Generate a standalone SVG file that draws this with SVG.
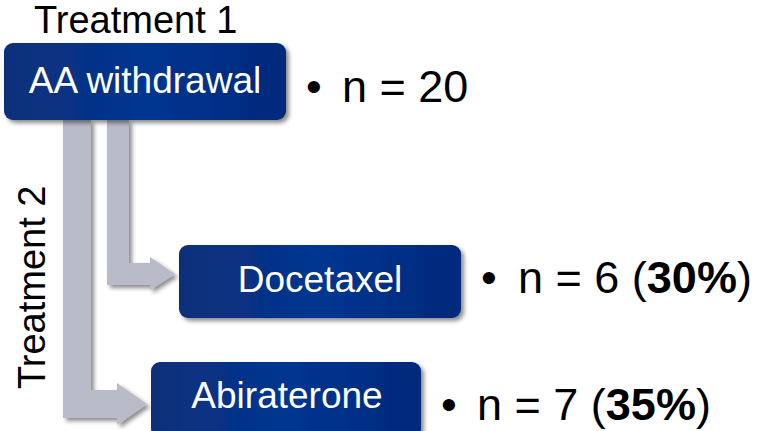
<svg xmlns="http://www.w3.org/2000/svg" width="775" height="431" viewBox="0 0 775 431">
  <defs>
    <linearGradient id="boxGrad" x1="0" y1="0" x2="1" y2="0">
      <stop offset="0" stop-color="#0e2f78"/>
      <stop offset="0.5" stop-color="#003592"/>
      <stop offset="1" stop-color="#06297a"/>
    </linearGradient>
    <filter id="shadow" x="-10%" y="-10%" width="125%" height="130%">
      <feDropShadow dx="3" dy="3" stdDeviation="2" flood-color="#000" flood-opacity="0.45"/>
    </filter>
  </defs>
  <style>
    .box { fill: url(#boxGrad); filter: url(#shadow); }
    .boxlabel { font-family: "Liberation Sans", Arial, sans-serif; font-size: 37px; fill: #ffffff; text-anchor: middle; }
    .label { font-family: "Liberation Sans", Arial, sans-serif; font-size: 38px; fill: #000000; }
    .count { font-family: "Liberation Sans", Arial, sans-serif; font-size: 45px; fill: #000000; }
    .arrow { fill: #b9bbc9; filter: url(#shadow); }
  </style>
  <rect width="775" height="431" fill="#ffffff"/>

  <g id="connectors">
    <path class="arrow" d="M63,120 H91 V390 H117 V383 L147,404 L117,425 V418 H63 Z"/>
    <path class="arrow" d="M107,120 H129 V263 H150 V257 L175,274 L150,290 V285 H107 Z"/>
  </g>

  <g id="treatment1-label">
    <text class="label" x="34" y="33">Treatment 1</text>
  </g>

  <g id="treatment2-label">
    <text class="label" transform="translate(45,389) rotate(-90)">Treatment 2</text>
  </g>

  <g id="aa-withdrawal">
    <rect class="box" x="4" y="43" width="282" height="77" rx="9"/>
    <text class="boxlabel" x="145" y="93">AA withdrawal</text>
  </g>

  <g id="docetaxel">
    <rect class="box" x="179" y="245" width="282" height="73" rx="9"/>
    <text class="boxlabel" x="320" y="292">Docetaxel</text>
  </g>

  <g id="abiraterone">
    <rect class="box" x="151" y="362" width="270" height="76" rx="9"/>
    <text class="boxlabel" x="287" y="408">Abiraterone</text>
  </g>

  <g id="count-aa">
    <text class="count" x="306" y="102">•</text>
    <text class="count" x="342" y="102">n = 20</text>
  </g>

  <g id="count-docetaxel">
    <text class="count" x="481" y="293">•</text>
    <text class="count" x="518" y="293">n = 6 (<tspan font-weight="bold">30%</tspan>)</text>
  </g>

  <g id="count-abiraterone">
    <text class="count" x="441" y="420">•</text>
    <text class="count" x="477" y="420">n = 7 (<tspan font-weight="bold">35%</tspan>)</text>
  </g>
</svg>
